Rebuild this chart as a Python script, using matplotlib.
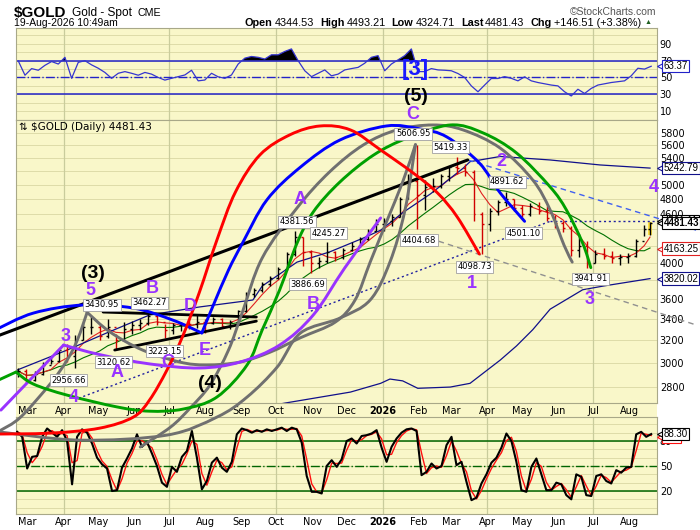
"""
Gold spot daily chart with RSI, stochastics and Elliott-wave markup
"""
import numpy as np
import pandas as pd
import matplotlib
matplotlib.use("Agg")
import matplotlib.pyplot as plt
import matplotlib.dates as mdates
from matplotlib.path import Path
from matplotlib.patches import PathPatch, Rectangle
from matplotlib.ticker import FixedLocator, FixedFormatter, NullLocator

# ---------------- data ----------------
week_dates = list(pd.date_range("2025-02-21", "2026-08-14", freq="W-FRI")) + [pd.Timestamp("2026-08-19")]
closes = [2930, 2860, 2910, 2985, 3020, 3110, 3060, 3200, 3330, 3330,
          3240, 3330, 3200, 3310, 3340, 3360, 3430, 3370, 3300, 3340,
          3355, 3350, 3370, 3360, 3400, 3335, 3370, 3480, 3660, 3700,
          3760, 3830, 3930, 4100, 4300, 4120, 4000, 4020, 4120, 4060,
          4150, 4200, 4280, 4380, 4470, 4500, 4560, 4800, 5050, 4850,
          4960, 4980, 5120, 5260, 5250, 5180, 4600, 4470, 4640, 4760,
          4800, 4680, 4600, 4700, 4640, 4540, 4480, 4420, 4150, 4200,
          4000, 4100, 4080, 4050, 4060, 4080, 4250, 4400, 4481.43]
highs = [2955, 2945, 2935, 3005, 3060, 3125, 3170, 3250, 3360, 3431,
         3350, 3400, 3260, 3370, 3380, 3400, 3462, 3440, 3350, 3360,
         3375, 3380, 3440, 3400, 3420, 3410, 3390, 3490, 3680, 3720,
         3780, 3850, 3950, 4120, 4382, 4300, 4150, 4060, 4245, 4140,
         4170, 4240, 4300, 4400, 4530, 4540, 4600, 4830, 5150, 5607,
         5060, 5090, 5150, 5280, 5419, 5300, 5220, 4620, 4680, 4790,
         4892, 4800, 4710, 4740, 4760, 4700, 4580, 4510, 4440, 4340,
         4250, 4150, 4170, 4130, 4100, 4110, 4280, 4450, 4493.21]
lows = [2880, 2835, 2850, 2900, 2990, 3010, 3010, 2957, 3200, 3260,
        3200, 3220, 3121, 3200, 3260, 3300, 3340, 3340, 3223, 3260,
        3290, 3310, 3320, 3270, 3350, 3320, 3310, 3360, 3470, 3620,
        3680, 3740, 3820, 3920, 4080, 3960, 3887, 3940, 3990, 4020,
        4040, 4140, 4180, 4270, 4380, 4380, 4440, 4560, 4800, 4405,
        4650, 4900, 4950, 5050, 5160, 5120, 4500, 4099, 4380, 4580,
        4700, 4640, 4560, 4570, 4600, 4500, 4420, 4360, 4080, 4060,
        3942, 3990, 4040, 4000, 3970, 4000, 4060, 4320, 4324.71]

upper_dates = ["2025-02-20", "2025-04-04", "2025-05-08", "2025-06-14", "2025-07-27",
               "2025-09-11", "2025-09-19", "2025-10-19", "2025-11-16", "2025-12-15",
               "2025-12-30", "2026-01-18", "2026-02-11", "2026-03-11", "2026-03-17",
               "2026-04-12", "2026-05-25", "2026-07-07", "2026-08-19"]
upper_vals = [2940, 3113, 3269, 3442, 3522, 3593, 3739, 4005, 4123, 4290,
              4388, 4614, 4870, 5240, 5340, 5420, 5366, 5290, 5242.79]

lower_dates = ["2025-09-17", "2025-10-09", "2025-12-04", "2025-12-30", "2026-01-07",
               "2026-01-18", "2026-01-31", "2026-02-28", "2026-03-17", "2026-04-12",
               "2026-04-26", "2026-05-10", "2026-05-25", "2026-06-22", "2026-07-10",
               "2026-08-19"]
lower_vals = [2640, 2675, 2760, 2830, 2865, 2850, 2790, 2800, 2830, 3025,
              3150, 3300, 3500, 3700, 3740, 3820.02]

rsi = [69.6, 52.7, 60.6, 58.6, 64.5, 69, 66, 74, 49, 68,
       70, 65, 61, 56, 49, 55, 57, 55, 52.7, 56,
       54, 50, 46.9, 49, 51, 53, 58.6, 46, 47, 55,
       50.8, 49, 53, 66, 73, 75, 74, 72, 77, 77,
       81, 84, 70, 58, 51, 55, 59, 52, 54, 59,
       60.6, 62, 67, 74, 76, 58, 66, 71, 76, 84,
       57, 57, 60.6, 59, 58.6, 58, 54.7, 50, 40, 33,
       41, 48.8, 48.8, 51, 49, 46, 50.8, 46, 44, 42.5,
       41, 40, 33, 28, 36, 31, 37, 41, 42.5, 44,
       45, 46, 52, 61, 60, 63.37]

stoch_k = [91, 85, 47, 61, 62, 85, 95, 90, 85, 93,
           80, 28, 85, 94, 90, 77, 60, 52, 47, 20,
           21, 48, 59, 71, 88, 73, 79, 65, 50, 30,
           25, 49, 43, 61, 68, 92, 60, 22, 32, 54,
           60, 48, 43, 55, 88, 95, 93, 90, 93, 91,
           94, 92, 94, 96, 92, 96, 94, 78, 38, 19,
           19, 17, 50, 57, 49, 58, 80,
           83, 77, 86, 87, 89, 93, 72, 55, 73, 83,
           90, 94, 95, 92, 39, 43, 53, 47, 50, 75,
           85, 51, 55, 31, 9, 12, 29, 40, 54, 60,
           72, 89, 80, 55, 21, 19, 49, 59, 40, 21,
           21, 30, 28, 15, 10, 40, 37, 15, 14, 38,
           40, 32, 29, 45, 42, 48, 49, 88, 91, 85,
           88.3]

# Elliott-wave markup: hand-drawn arcs as (date, price) knots
arc_red = [("2025-01-28", 2447), ("2025-03-21", 2454), ("2025-05-02", 2489), ("2025-05-31", 2569),
           ("2025-06-14", 2698), ("2025-06-29", 2940), ("2025-07-13", 3251), ("2025-07-27", 3676),
           ("2025-08-11", 4266), ("2025-08-27", 4896), ("2025-09-17", 5443), ("2025-10-13", 5768),
           ("2025-11-08", 5915), ("2025-12-04", 5848), ("2025-12-30", 5522), ("2026-01-27", 5170),
           ("2026-02-17", 4882), ("2026-03-06", 4557), ("2026-03-25", 4098.73)]
arc_blue_left = [("2025-02-01", 3297), ("2025-03-06", 3461), ("2025-04-18", 3542),
                 ("2025-05-31", 3511), ("2025-07-04", 3392), ("2025-07-29", 3269)]
arc_blue = [("2025-07-29", 3269), ("2025-08-08", 3542), ("2025-08-21", 3915), ("2025-09-02", 4228),
            ("2025-09-23", 4785), ("2025-10-22", 5258), ("2025-11-25", 5682), ("2026-01-04", 5915),
            ("2026-02-02", 5865), ("2026-02-25", 5732), ("2026-03-25", 5320), ("2026-04-12", 4882),
            ("2026-05-03", 4501.10)]
arc_green_left = [("2025-02-04", 2857), ("2025-02-19", 2923)]
arc_green = [("2025-02-19", 2923), ("2025-03-06", 2824), ("2025-04-04", 2736), ("2025-05-17", 2645),
             ("2025-06-14", 2613), ("2025-07-13", 2629), ("2025-08-11", 2721), ("2025-09-06", 2983),
             ("2025-09-19", 3297), ("2025-10-04", 3697), ("2025-10-19", 4228), ("2025-11-02", 4624),
             ("2025-11-25", 5039), ("2025-12-24", 5443), ("2026-01-22", 5714), ("2026-02-28", 5932),
             ("2026-03-28", 5800), ("2026-04-26", 5475), ("2026-05-25", 4967), ("2026-06-08", 4650),
             ("2026-06-22", 4228), ("2026-06-29", 3941.91)]
arc_gray_a = [("2025-02-06", 2475), ("2025-02-23", 2569), ("2025-03-21", 2832),
              ("2025-04-04", 3025), ("2025-04-13", 3208), ("2025-04-21", 3460)]
arc_gray_b = [("2025-04-21", 3471), ("2025-05-11", 3278), ("2025-06-08", 3113), ("2025-07-10", 3008),
              ("2025-08-02", 2983), ("2025-08-31", 3008), ("2025-09-26", 3095), ("2025-10-22", 3225),
              ("2025-11-21", 3373), ("2025-12-08", 3593), ("2025-12-21", 4005), ("2026-01-04", 4493),
              ("2026-01-18", 5039), ("2026-01-29", 5606.95)]
arc_gray_c = [("2025-02-06", 2461), ("2025-04-15", 2405), ("2025-06-29", 2440), ("2025-08-11", 2569),
              ("2025-09-06", 2721), ("2025-10-02", 2966), ("2025-10-22", 3269), ("2025-11-25", 3412),
              ("2025-12-21", 3593), ("2026-01-07", 4005), ("2026-01-20", 4650), ("2026-01-29", 5606.95)]
arc_gray_big = [("2025-06-06", 2358), ("2025-07-02", 2496), ("2025-07-19", 2637), ("2025-08-05", 2816),
                ("2025-08-21", 3113), ("2025-09-02", 3471), ("2025-09-19", 4052), ("2025-10-19", 4677),
                ("2025-11-16", 5185), ("2025-12-15", 5601), ("2026-01-13", 5848), ("2026-02-13", 5932),
                ("2026-03-11", 5848), ("2026-04-12", 5551), ("2026-05-10", 5067), ("2026-05-25", 4650),
                ("2026-06-06", 4202), ("2026-06-13", 4005)]
arc_purple = [("2025-04-01", 3158), ("2025-05-02", 3073), ("2025-06-14", 2992), ("2025-07-27", 2957),
              ("2025-08-31", 3008), ("2025-10-04", 3158), ("2025-11-02", 3442), ("2025-11-29", 3937),
              ("2025-12-30", 4545)]
line_purple = [("2025-02-06", 2621), ("2025-04-01", 3158)]
line_black = [("2025-02-01", 3233), ("2026-03-15", 5366)]
wedge_top = [("2025-05-05", 3471), ("2025-09-14", 3422)]
wedge_bottom = [("2025-05-15", 3113), ("2025-09-14", 3382)]
line_blue_dash = [("2026-03-15", 5366), ("2026-09-28", 4388)]
line_gray_dash = [("2026-02-02", 4326), ("2026-09-28", 3344)]
line_dot_rise = [("2025-04-14", 2712), ("2026-05-25", 4501.1)]
line_dot_flat = [("2026-05-25", 4501.1), ("2026-08-25", 4501.1)]

wave_purple = [("5", "2025-04-24", 3697), ("3", "2025-04-03", 3234), ("4", "2025-04-10", 2721),
               ("A", "2025-05-17", 2923), ("B", "2025-06-16", 3715), ("C", "2025-06-30", 3008),
               ("D", "2025-07-19", 3522), ("E", "2025-08-01", 3113), ("A", "2025-10-22", 4785),
               ("B", "2025-11-02", 3552), ("C", "2026-01-27", 6109), ("1", "2026-03-19", 3772),
               ("2", "2026-04-13", 5350), ("3", "2026-06-28", 3603), ("4", "2026-08-22", 4953)]
wave_black = [("(3)", "2025-04-26", 3880), ("(4)", "2025-08-05", 2832)]

price_notes = [("3430.95", "2025-05-04", 3542), ("3462.27", "2025-06-14", 3565),
               ("3120.62", "2025-05-14", 3008), ("3223.15", "2025-06-27", 3104),
               ("2956.66", "2025-04-05", 2857), ("4381.56", "2025-10-19", 4493),
               ("4245.27", "2025-11-15", 4348), ("3886.69", "2025-10-28", 3760),
               ("5606.95", "2026-01-27", 5783), ("5419.33", "2026-02-28", 5566),
               ("4891.62", "2026-04-18", 5039), ("4404.68", "2026-02-01", 4266),
               ("4098.73", "2026-03-21", 3952), ("4501.10", "2026-05-02", 4348),
               ("3941.91", "2026-06-29", 3817)]

price_ticks = list(range(2800, 6000, 200))
covered_ticks = [3800, 4200, 4400, 5200]     # hidden behind the value boxes on the right
quarter_starts = ["2025-04-01", "2025-07-01", "2025-10-01", "2026-01-01", "2026-04-01", "2026-07-01"]
month_starts = pd.date_range("2025-03-01", "2026-08-01", freq="MS")

# ---------------- styles ----------------
BG = "#F9F7C9"
GRID = "#DEDCA9"
QGRID = "#C9CC9C"
PURPLE = "#9933FF"
ARIAL = ["Liberation Sans", "DejaVu Sans"]


def to_num(dates):
    return mdates.date2num(pd.to_datetime(dates))


def smooth_arc(points):
    # Catmull-Rom through the knots, done in (date, log price) so it matches the log axis
    xs = to_num([p[0] for p in points])
    ys = np.log([p[1] for p in points])
    pts = np.column_stack([xs, ys])
    verts, codes = [pts[0]], [Path.MOVETO]
    n = len(pts)
    for i in range(n - 1):
        p0 = pts[max(i - 1, 0)]
        p1, p2 = pts[i], pts[i + 1]
        p3 = pts[min(i + 2, n - 1)]
        verts += [p1 + (p2 - p0) / 6, p2 - (p3 - p1) / 6, p2]
        codes += [Path.CURVE4] * 3
    verts = np.array(verts)
    verts[:, 1] = np.exp(verts[:, 1])
    return Path(verts, codes)


def draw_arc(ax, points, color, lw=2.1):
    patch = PathPatch(smooth_arc(points), fill=False, edgecolor=color, lw=lw,
                      capstyle="round", zorder=6)
    ax.add_patch(patch)
    patch.set_clip_on(False)


def draw_line(ax, points, color, lw=2.1, ls="-"):
    ax.plot(to_num([p[0] for p in points]), [p[1] for p in points], color=color,
            lw=lw, ls=ls, clip_on=False, zorder=6, solid_capstyle="round")


def edge_label(ax, y, text, ec, weight="normal", z=12):
    tr = ax.get_yaxis_transform()
    ax.plot([1.004], [y], marker="<", ms=5, mfc="white", mec=ec, mew=0.8,
            transform=tr, clip_on=False, zorder=z)
    ax.text(1.010, y, text, transform=tr, ha="left", va="center", fontsize=7, family=ARIAL,
            fontweight=weight, color="black", clip_on=False, zorder=z,
            bbox=dict(boxstyle="square,pad=0.12", fc="white", ec=ec, lw=0.8))


def style_panel(ax):
    ax.set_facecolor(BG)
    for s in ax.spines.values():
        s.set_color("#A8A888")
        s.set_linewidth(0.8)
    ax.yaxis.tick_right()
    ax.tick_params(axis="both", length=0, labelsize=7, pad=2)
    for q in to_num(quarter_starts):
        ax.axvline(q, color=QGRID, lw=0.9, zorder=0.5)
    ax.xaxis.set_major_locator(FixedLocator(to_num(month_starts)))
    ax.xaxis.set_minor_locator(NullLocator())


# ---------------- figure ----------------
fig = plt.figure(figsize=(7.0, 5.3), dpi=100)
fig.patch.set_facecolor("white")
W, H = 700.0, 530.0


def panel_box(l, t, r, b):
    return [l / W, 1 - b / H, (r - l) / W, (b - t) / H]


fig.patches.append(Rectangle((16 / W, 1 - 417 / H), 641 / W, 14 / H, transform=fig.transFigure,
                             fc=BG, ec="none", zorder=0))

ax_rsi = fig.add_axes(panel_box(16, 28, 657, 120))
ax_st = fig.add_axes(panel_box(16, 417, 657, 514))
ax = fig.add_axes(panel_box(16, 120, 657, 403))
ax_rsi.set_zorder(1)
ax_st.set_zorder(1)
ax.set_zorder(5)

xmin, xmax = to_num(["2025-02-19", "2026-08-25"])
month_labels = ["2026" if d.month == 1 else d.strftime("%b") for d in month_starts]

# ---- RSI panel ----
style_panel(ax_rsi)
rsi_x = to_num(pd.date_range("2025-02-21", "2026-08-20", periods=len(rsi)))
rsi_arr = np.array(rsi)
for g in range(10, 110, 10):
    ax_rsi.axhline(g, color=GRID, lw=0.7, zorder=0.4)
ax_rsi.fill_between(rsi_x, rsi_arr, 70, where=rsi_arr >= 70, interpolate=True, color="black", lw=0, zorder=2)
ax_rsi.plot(rsi_x, rsi_arr, color="#3535D0", lw=0.9, zorder=3)
ax_rsi.axhline(70, color="#2222C8", lw=1.1, zorder=2.5)
ax_rsi.axhline(30, color="#2222C8", lw=1.1, zorder=2.5)
ax_rsi.axhline(50, color="#2222C8", lw=1.0, ls="-.", zorder=2.5)
ax_rsi.set_xlim(xmin, xmax)
ax_rsi.set_ylim(-0.6, 108.9)
ax_rsi.yaxis.set_major_locator(FixedLocator([10, 30, 50, 70, 90]))
ax_rsi.set_xticklabels([])
edge_label(ax_rsi, rsi[-1], "63.37", "#2222C8")
ax_rsi.text(to_num(["2026-01-29"])[0], 59, "[3]", color="#1A1AFF", fontsize=16, fontweight="bold",
            family=ARIAL, ha="center", va="center", zorder=8)
ax_rsi.text(to_num(["2026-01-29"])[0], 27, "(5)", color="black", fontsize=14, fontweight="bold",
            family=ARIAL, ha="center", va="center", zorder=8)

# ---- stochastic panel ----
style_panel(ax_st)
st_x = to_num(pd.date_range("2025-02-20", "2026-08-20", periods=len(stoch_k)))
st_k = pd.Series(stoch_k)
st_d = st_k.rolling(2, min_periods=1).mean()
for g in range(0, 110, 10):
    ax_st.axhline(g, color=GRID, lw=0.7, zorder=0.4)
ax_st.axhline(80, color="#006400", lw=1.1, zorder=2)
ax_st.axhline(20, color="#006400", lw=1.1, zorder=2)
ax_st.axhline(50, color="#006400", lw=1.0, ls="-.", zorder=2)
ax_st.plot(st_x, st_d, color="#FF1010", lw=1.0, zorder=3)
ax_st.plot(st_x, st_k, color="black", lw=1.5, zorder=4)
ax_st.set_xlim(xmin, xmax)
ax_st.set_ylim(-7.6, 108.8)
ax_st.yaxis.set_major_locator(FixedLocator([20, 50, 80]))
ax_st.xaxis.set_major_formatter(FixedFormatter(month_labels))
edge_label(ax_st, 85.0, "      ", "#FF1010", z=11)
edge_label(ax_st, stoch_k[-1], "88.30", "black")

# ---- price panel ----
style_panel(ax)
ax.set_yscale("log")
ax.set_xlim(xmin, xmax)
ax.set_ylim(2675, 6017)
ax.yaxis.set_major_locator(FixedLocator(price_ticks))
ax.yaxis.set_major_formatter(FixedFormatter(["" if t in covered_ticks else str(t) for t in price_ticks]))
ax.yaxis.set_minor_locator(NullLocator())
ax.xaxis.set_major_formatter(FixedFormatter(month_labels))
for t in price_ticks:
    ax.axhline(t, color=GRID, lw=0.7, zorder=0.4)

wd = to_num(week_dates)
opens = [closes[0]] + closes[:-1]
bar_col = ["black" if c >= o else "#D00000" for c, o in zip(closes, opens)]
ax.add_patch(Rectangle((wd[-1] - 1.8, lows[-1]), 3.6, highs[-1] - lows[-1],
                       fc="#FFE040", ec="none", zorder=1))

close_s = pd.Series(closes)
ax.plot(wd, close_s.rolling(10, min_periods=1).mean(), color="#007000", lw=0.8, zorder=2)
ax.plot(wd, close_s.rolling(4, min_periods=1).mean(), color="#E02020", lw=0.8, zorder=2)
ax.plot(to_num(upper_dates), upper_vals, color="#10108A", lw=0.9, zorder=2)
ax.plot(to_num(lower_dates), lower_vals, color="#10108A", lw=0.9, zorder=2)

ax.vlines(wd, lows, highs, colors=bar_col, lw=1.0, zorder=3)
ax.hlines(opens, wd - 1.7, wd, colors=bar_col, lw=1.0, zorder=3)
ax.hlines(closes, wd, wd + 1.7, colors=bar_col, lw=1.0, zorder=3)

# straight markup lines
draw_line(ax, line_dot_rise, "#2020A0", lw=1.0, ls=(0, (1.5, 2)))
draw_line(ax, line_dot_flat, "#2020A0", lw=1.0, ls=(0, (1.5, 2)))
draw_line(ax, line_gray_dash, "#909090", lw=1.0, ls=(0, (4, 3)))
draw_line(ax, line_blue_dash, "#4060F0", lw=1.0, ls=(0, (4, 3)))
draw_line(ax, wedge_top, "black", lw=2.0)
draw_line(ax, wedge_bottom, "black", lw=2.0)
draw_line(ax, line_black, "black", lw=2.2)
draw_line(ax, line_purple, PURPLE, lw=2.1)

# arcs
for pts, col in [(arc_gray_a, "#707070"), (arc_gray_b, "#707070"), (arc_gray_c, "#707070"),
                 (arc_gray_big, "#707070"), (arc_green_left, "#00A000"), (arc_green, "#00A000"),
                 (arc_purple, PURPLE), (arc_blue_left, "#0000FF"), (arc_blue, "#0000FF"),
                 (arc_red, "#FF0000")]:
    draw_arc(ax, pts, col)

for txt, d, p in price_notes:
    ax.text(to_num([d])[0], p, txt, fontsize=6, ha="center", va="center", zorder=9,
            bbox=dict(boxstyle="square,pad=0.18", fc="white", ec="#A0A0A0", lw=0.6))

for txt, d, p in wave_purple:
    ax.text(to_num([d])[0], p, txt, color=PURPLE, fontsize=13, fontweight="bold", family=ARIAL,
            ha="center", va="center", zorder=10, clip_on=False)
for txt, d, p in wave_black:
    ax.text(to_num([d])[0], p, txt, color="black", fontsize=14, fontweight="bold", family=ARIAL,
            ha="center", va="center", zorder=10, clip_on=False)

ax.text(0.005, 0.975, "\u21c5 $GOLD (Daily) 4481.43", transform=ax.transAxes, fontsize=7.5,
        ha="left", va="center", zorder=10)

edge_label(ax, upper_vals[-1], "5242.79", "#10108A")
edge_label(ax, 4501.11, "4501.11", "black")
edge_label(ax, closes[-1], "4481.43", "black", weight="bold", z=13)
edge_label(ax, 4163.25, "4163.25", "#E02020")
edge_label(ax, lower_vals[-1], "3820.02", "#10108A")

for a in (ax, ax_st):
    for lab in a.get_xticklabels():
        if lab.get_text() == "2026":
            lab.set_fontweight("bold")

# ---------------- header ----------------
renderer = fig.canvas.get_renderer()


def text_run(parts, x0, y, size):
    x = x0
    made = []
    for s, w, gap, col, scale in parts:
        t = fig.text(x / W, 1 - y / H, s, fontsize=size * scale, fontweight=w, family=ARIAL,
                     color=col, va="center")
        made.append(t)
        x += t.get_window_extent(renderer).width + gap
    return made, x - x0


title_parts = [("$GOLD", "bold", 6, "black", 1.0), ("Gold - Spot", "normal", 5, "black", 0.78),
               ("CME", "normal", 0, "black", 0.7)]
text_run(title_parts, 14, 13, 11)
fig.text(656 / W, 1 - 12 / H, "\u00a9StockCharts.com", fontsize=7.5, family=ARIAL, color="#555555",
         ha="right", va="center")
fig.text(14 / W, 1 - 23 / H, "19-Aug-2026 10:49am", fontsize=7.5, family=ARIAL, va="center")

quote_parts = [("Open", "bold", 2, "black", 1), ("4344.53", "normal", 6, "black", 1),
               ("High", "bold", 2, "black", 1), ("4493.21", "normal", 6, "black", 1),
               ("Low", "bold", 2, "black", 1), ("4324.71", "normal", 6, "black", 1),
               ("Last", "bold", 2, "black", 1), ("4481.43", "normal", 6, "black", 1),
               ("Chg", "bold", 2, "black", 1), ("+146.51 (+3.38%)", "normal", 4, "black", 1),
               ("\u25b2", "normal", 0, "#206020", 0.65)]
made, width = text_run(quote_parts, 245, 23, 8)
if width > 408:
    for t in made:
        t.remove()
    text_run(quote_parts, 245, 23, 8 * 408 / width)

fig.savefig("out.png", dpi=100, facecolor="white")
